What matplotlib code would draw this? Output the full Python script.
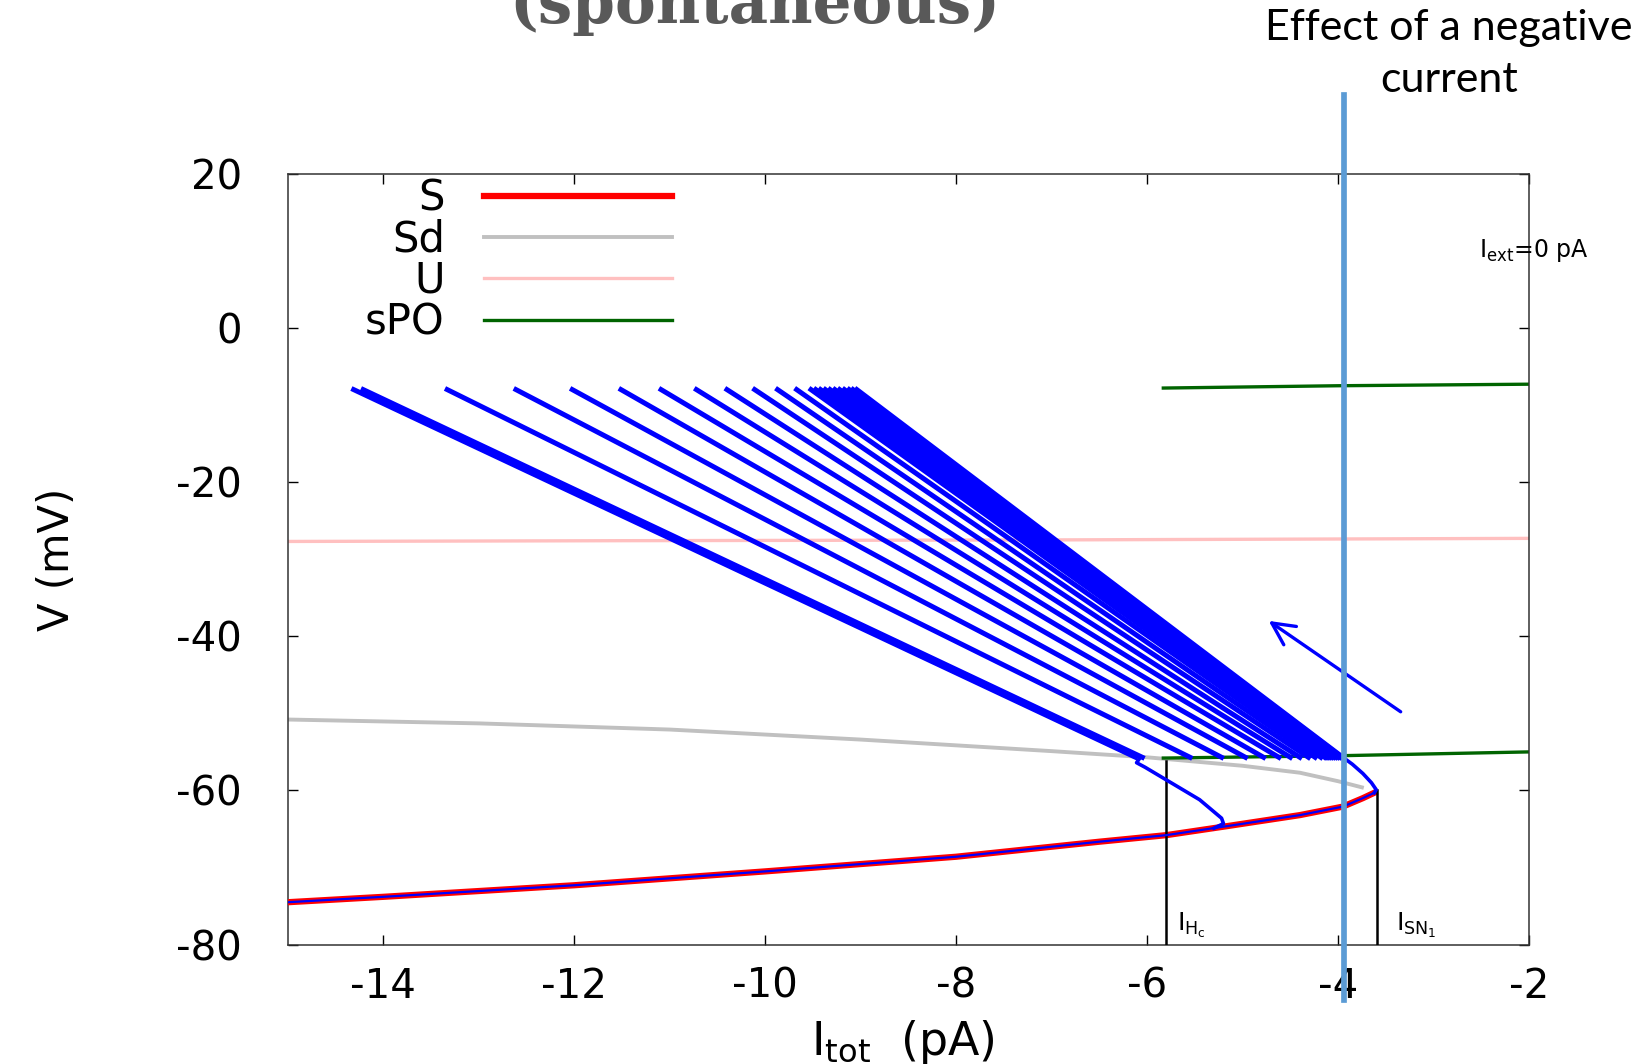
import matplotlib
matplotlib.use("Agg")
import matplotlib.pyplot as plt

# stable branch S, unstable middle branch Sd, unstable U, stable periodic orbit sPO
S_I = [-15, -14, -12, -10, -8, -6.5, -5.8, -5.2, -4.4, -3.95, -3.74, -3.62]
S_V = [-74.5, -73.8, -72.3, -70.5, -68.6, -66.65, -65.8, -64.7, -63.2, -62.1, -61.0, -60.3]
Sd_I = [-15, -13, -11, -9, -7, -6, -5, -4.4, -4.0, -3.75]
Sd_V = [-50.8, -51.3, -52.1, -53.4, -54.9, -55.7, -56.8, -57.7, -58.8, -59.6]
U_I = [-15, -11.5, -7, -2]
U_V = [-27.7, -27.6, -27.5, -27.3]
sPO_I = [-5.83, -4, -2]
sPO_max = [-7.8, -7.5, -7.3]
sPO_min = [-55.8, -55.5, -55.0]

# trajectory (blue): spikes go from the lower sPO branch up to the top
spike_top = [-14.31, -14.21, -13.33, -12.61, -12.02, -11.51, -11.09, -10.72, -10.40,
             -10.11, -9.87, -9.67, -9.52, -9.47, -9.42, -9.37, -9.32, -9.27, -9.22,
             -9.17, -9.12, -9.08, -9.04]
spike_bot = [-6.12, -6.05, -5.55, -5.22, -4.97, -4.78, -4.62, -4.50, -4.40,
             -4.31, -4.24, -4.18, -4.14, -4.12, -4.10, -4.08, -4.06, -4.04, -4.02,
             -4.00, -3.98, -3.96, -3.95]
spike_vtop = -8.0
spike_vbot = -55.7
hook_I = [-6.07, -6.11, -6.02, -5.45, -5.22, -5.20, -5.30]
hook_V = [-55.7, -56.4, -57.0, -61.2, -63.6, -64.3, -64.9]
fold_I = [-3.96, -3.85, -3.74, -3.65, -3.60, -3.62]
fold_V = [-55.6, -56.6, -57.8, -59.0, -59.9, -60.3]

I_Hc, V_Hc = -5.80, -56.2
I_SN1, V_SN1 = -3.59, -60.0
I_neg = -3.94

plt.rcParams['font.family'] = ['DejaVu Sans']
plt.rcParams['axes.unicode_minus'] = False

fig = plt.figure(figsize=(16.51, 10.64), dpi=100)
ax = fig.add_axes([0.1743, 0.1122, 0.7518, 0.7245])

ax.plot(S_I, S_V, color='red', lw=4.5, label='S', zorder=3)
ax.plot(Sd_I, Sd_V, color='#c0c0c0', lw=2.8, label='Sd', zorder=2)
ax.plot(U_I, U_V, color='#ffc0c0', lw=2.4, label='U', zorder=2)
ax.plot(sPO_I, sPO_max, color='#006400', lw=2.4, label='sPO', zorder=2)
ax.plot(sPO_I, sPO_min, color='#006400', lw=2.4, zorder=2)

for t, b in zip(spike_top, spike_bot):
    ax.plot([b, t], [spike_vbot, spike_vtop], color='blue', lw=3.6, zorder=4)
ax.plot(S_I, S_V, color='blue', lw=1.6, zorder=4)
ax.plot(hook_I, hook_V, color='blue', lw=2.6, zorder=4)
ax.plot(fold_I, fold_V, color='blue', lw=2.6, zorder=4)
ax.annotate('', xy=(-4.75, -37.8), xytext=(-3.32, -50.0),
            arrowprops=dict(arrowstyle='->', color='blue', lw=2.4, mutation_scale=40))

ax.plot([I_Hc, I_Hc], [V_Hc, -80], color='black', lw=1.8, zorder=3)
ax.plot([I_SN1, I_SN1], [V_SN1, -80], color='black', lw=1.8, zorder=3)
ax.text(-5.69, -77.5, r'I$_{\mathregular{H_c}}$', fontsize=18, va='center')
ax.text(-3.39, -77.5, r'I$_{\mathregular{SN_1}}$', fontsize=18, va='center')
ax.text(-2.52, 10.1, r'I$_{\mathregular{ext}}$=0 pA', fontsize=17, va='center', clip_on=False)

ax.axvline(I_neg, ymin=-0.072, ymax=1.1025, color='#5b9bd5', lw=4.1, clip_on=False, zorder=6)

ax.set_xlim(-15, -2)
ax.set_ylim(-80, 20)
ax.set_xticks([-14, -12, -10, -8, -6, -4, -2])
ax.set_yticks([-80, -60, -40, -20, 0, 20])
ax.tick_params(direction='in', length=7, width=1.0, top=True, right=True,
               labelsize=29)
ax.tick_params(axis='y', pad=33)
ax.tick_params(axis='x', pad=16)
for s in ax.spines.values():
    s.set_linewidth(1.1)
    s.set_color('#333333')

ax.set_xlabel(r'I$_{\mathregular{tot}}$  (pA)', fontsize=33)
ax.xaxis.set_label_coords(0.4957, -0.095)
ax.set_ylabel('V (mV)', fontsize=30)
ax.yaxis.set_label_coords(-0.169, 0.5)

ax.legend(loc='upper right', bbox_to_anchor=(0.3095, 0.995), frameon=False,
          markerfirst=False, fontsize=30, handlelength=4.5, handletextpad=0.95,
          labelspacing=-0.02, borderpad=0, borderaxespad=0)

fig.text(0.457, 1 - 23 / 1064, '(spontaneous)', ha='center', va='baseline',
         fontsize=44, fontweight='bold', family='DejaVu Serif', color='#595959')
fig.text(0.8777, 1 - 54 / 1064, 'Effect of a negative\ncurrent', ha='center', va='center',
         fontsize=31, family='Lato', linespacing=1.45, multialignment='center')

fig.savefig('out.png', dpi=100)
